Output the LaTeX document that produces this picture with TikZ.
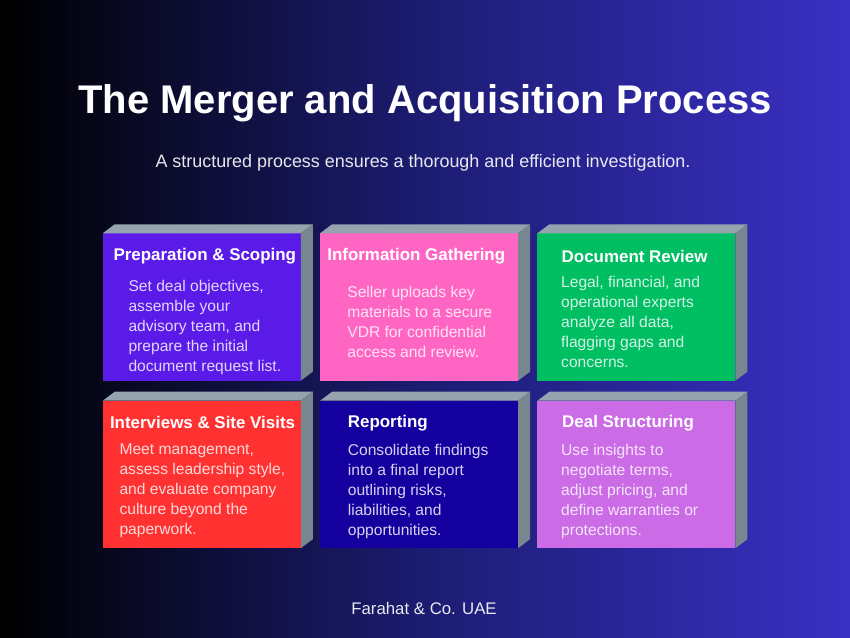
\documentclass[tikz,border=0pt]{standalone}
\usepackage{fontspec}
\setmainfont{Liberation Sans}
\usetikzlibrary{calc}
\usetikzlibrary{matrix}

\definecolor{bgright}{HTML}{3A30C4}
\definecolor{bgmid}{HTML}{1C1C72}
\definecolor{topface}{HTML}{94A3AD}
\definecolor{sideface}{HTML}{78868F}
\definecolor{prepcol}{HTML}{5A1BE8}
\definecolor{infocol}{HTML}{FF66C4}
\definecolor{doccol}{HTML}{00BF63}
\definecolor{intercol}{HTML}{FF3131}
\definecolor{repcol}{HTML}{14009E}
\definecolor{dealcol}{HTML}{CB6CE6}

% top and right faces of one card
\newcommand{\cardfaces}[1]{
\fill[topface] (#1.north west) -- ++(12,9) -- ($(#1.north east)+(12,9)$) -- (#1.north east) -- cycle;
\fill[sideface] (#1.north east) -- ++(12,9) -- ($(#1.south east)+(12,9)$) -- (#1.south east) -- cycle;
}

\begin{document}
\begin{tikzpicture}[x=0.75pt,y=0.75pt]

\tikzstyle{card}=[minimum width=148.5pt, minimum height=110.6pt, inner sep=0pt, outer sep=0pt]
\tikzstyle{head}=[anchor=west, inner sep=0pt, text=white, font=\fontsize{12.7}{15}\bfseries]
\tikzstyle{body}=[anchor=north west, inner sep=0pt, align=left, text=white, text opacity=0.82, font=\fontsize{11.7}{15}\selectfont]

\shade[left color=black, right color=bgright, middle color=bgmid] (0,0) rectangle (850,638);

\node[inner sep=0pt, text=white, font=\fontsize{30}{36}\bfseries] (title) at (425,535) {The Merger and Acquisition Process};
\node[inner sep=0pt, text=white, text opacity=0.9, font=\fontsize{13.45}{16}\selectfont] (subtitle) at (423,475) {A structured process ensures a thorough and efficient investigation.};

\matrix[anchor=north west, inner sep=0pt, row sep=15pt, column sep=14.5pt] (cards) at (102.5,405) {
	\node[card, fill=prepcol] (prep) {}; & \node[card, fill=infocol] (info) {}; & \node[card, fill=doccol] (docs) {}; \\
	\node[card, fill=intercol] (inter) {}; & \node[card, fill=repcol] (report) {}; & \node[card, fill=dealcol] (deal) {}; \\
};

\cardfaces{prep}
\cardfaces{info}
\cardfaces{docs}
\cardfaces{inter}
\cardfaces{report}
\cardfaces{deal}

\node[head] (prephead) at ($(prep.north west)+(10.5,-23)$) {Preparation \& Scoping};
\node[head] (infohead) at ($(info.north west)+(7,-23)$) {Information Gathering};
\node[head] (docshead) at ($(docs.north west)+(24,-23)$) {Document Review};
\node[head] (interhead) at ($(inter.north west)+(7,-22)$) {Interviews \& Site Visits};
\node[head] (reporthead) at ($(report.north west)+(27.5,-22)$) {Reporting};
\node[head] (dealhead) at ($(deal.north west)+(24.5,-22)$) {Deal Structuring};

\node[body] (prepbody) at ($(prep.north west)+(25.5,-47)$) {Set deal objectives,\\assemble your\\advisory team, and\\prepare the initial\\document request list.};
\node[body] (infobody) at ($(info.north west)+(27,-53)$) {Seller uploads key\\materials to a secure\\VDR for confidential\\access and review.};
\node[body] (docsbody) at ($(docs.north west)+(23.5,-43)$) {Legal, financial, and\\operational experts\\analyze all data,\\flagging gaps and\\concerns.};
\node[body] (interbody) at ($(inter.north west)+(16.5,-43)$) {Meet management,\\assess leadership style,\\and evaluate company\\culture beyond the\\paperwork.};
\node[body] (reportbody) at ($(report.north west)+(27.5,-43)$) {Consolidate findings\\into a final report\\outlining risks,\\liabilities, and\\opportunities.};
\node[body] (dealbody) at ($(deal.north west)+(23.5,-43)$) {Use insights to\\negotiate terms,\\adjust pricing, and\\define warranties or\\protections.};

\node[inner sep=0pt, text=white, text opacity=0.9, font=\fontsize{12.6}{15}\selectfont] (footer) at (424,30) {Farahat \& Co. UAE};
\end{tikzpicture}
\end{document}
